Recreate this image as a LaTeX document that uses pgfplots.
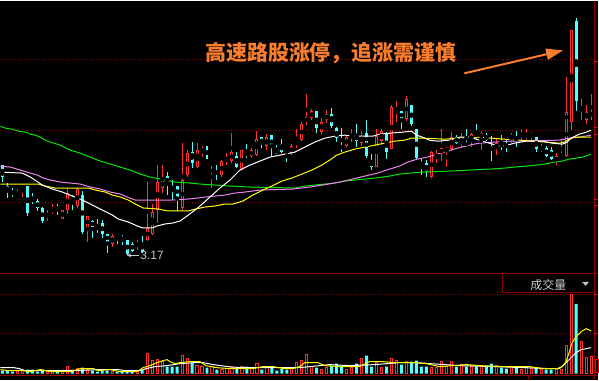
\documentclass[border=0pt]{standalone}
\usepackage{fontspec}
\setmainfont{Liberation Sans}
\newfontfamily\cjk{Noto Sans CJK SC}
\usepackage{pgfplots}
\pgfplotsset{compat=1.18}
\usepackage{pgfplotstable}
\usetikzlibrary{arrows.meta}

\definecolor{upred}{RGB}{255,50,50}
\definecolor{dncyan}{RGB}{84,255,255}
\definecolor{gridred}{RGB}{160,0,0}
\definecolor{linered}{RGB}{140,0,0}
\definecolor{tickred}{RGB}{230,0,0}
\definecolor{maviolet}{RGB}{240,130,240}
\definecolor{magreen}{RGB}{0,230,0}
\definecolor{mayellow}{RGB}{255,255,0}
\definecolor{anno}{RGB}{250,125,45}
\definecolor{lbl}{RGB}{195,200,210}
\definecolor{lgray}{RGB}{200,200,200}

% candles: x = pixel column, h/l = high/low, t/b = body top/bottom (pixel rows from top)
\pgfplotstableread{
x h l t b
17 189 197 195 197
22 184 197 186 189
47 210 221 214 216
52 204 214 208 212
62 210 219 210 219
67 189 214 193 210
77 188 208 189 206
87 216 242 216 228
112 234 247 236 244
137 240 250 243 247
147 182 241 228 240
152 204 235 212 234
157 165 223 182 210
162 165 193 180 188
182 143 210 180 208
187 150 177 153 175
197 143 168 150 167
202 146 157 148 152
212 166 188 169 173
222 160 177 161 175
227 153 165 158 161
232 133 163 152 161
242 150 171 150 170
252 148 158 150 156
257 131 156 139 155
267 134 150 137 146
292 144 155 146 153
297 129 148 141 144
302 122 141 124 140
307 94 125 117 122
312 109 120 111 118
322 118 134 122 132
327 110 123 114 120
347 136 147 137 146
352 129 142 135 137
362 131 146 136 143
377 129 167 136 167
382 129 145 131 141
392 105 149 107 149
397 101 122 107 111
407 96 121 99 119
432 151 178 152 177
437 150 163 154 158
442 129 161 148 154
447 147 167 148 152
452 132 151 137 149
462 133 147 140 144
472 133 147 134 141
482 131 150 133 138
497 139 155 143 149
512 133 143 135 139
522 129 140 133 137
527 129 140 135 137
532 132 140 134 136
542 144 152 147 150
557 153 165 156 162
562 140 158 154 157
567 77 157 112 156
572 30 130 30 122
582 99 120 107 109
587 105 124 112 120
592 94 120 112 116
}\uptab

\pgfplotstableread{
x h l t b
2 165 182 165 177
7 183 198 186 191
12 188 197 191 195
27 186 216 186 213
32 193 204 199 201
37 199 211 201 208
42 207 223 208 221
57 204 215 207 210
72 195 210 197 201
82 191 234 195 232
92 220 238 221 227
97 219 233 227 229
102 220 238 223 234
107 234 253 234 242
117 234 244 234 238
122 235 245 237 240
127 240 255 240 254
132 242 252 244 251
142 236 253 243 252
167 172 195 176 184
172 180 200 186 189
177 186 211 186 197
192 142 168 152 163
207 146 159 146 159
217 165 180 171 174
237 152 168 156 167
247 144 158 152 156
262 137 148 137 144
272 135 157 135 148
277 145 154 150 152
282 139 153 144 152
287 150 162 151 152
317 111 133 111 128
332 108 128 114 126
337 127 142 128 138
342 128 152 146 148
357 124 147 135 141
367 120 158 133 156
372 154 170 161 167
387 132 159 133 152
402 111 129 111 119
412 105 126 105 124
417 129 160 129 158
422 159 175 163 164
427 160 177 163 171
457 135 144 137 143
467 129 147 143 145
477 124 140 133 137
487 133 141 135 140
492 136 161 146 150
502 135 150 143 147
507 139 152 144 147
517 131 147 137 139
537 137 152 137 149
547 146 157 148 156
552 147 160 150 159
577 18 111 21 101
}\dntab

\pgfplotstableread{
x y
0 172
22 173
30 177
42 185
52 189
62 192
72 196
82 200
92 205
102 210
112 215
118 219
128 222
137 226
143 228
152 228
157 226
165 224
173 223
180 221
187 216
195 210
200 206
210 197
220 188
230 180
240 170
250 165
260 161
270 157
285 154
295 152
305 147
315 142
325 138
335 136
345 135
360 136
373 136
380 134
390 133
403 132
412 131
417 135
423 137
430 140
438 141
450 140
460 137
470 137
480 140
490 143
500 146
508 145
515 143
527 141
543 141
553 143
563 144
568 142
572 138
576 136
580 134
587 132
592 130
}\mafive

\pgfplotstableread{
x y
0 184
38 184
45 186
55 188
88 188
95 190
105 192
112 195
120 197
128 200
135 204
143 208
158 209
168 211
188 211
196 209
205 207
215 206
225 204
233 204
243 201
253 195
263 190
272 186
282 181
292 178
302 174
312 170
322 165
330 160
337 155
345 152
355 149
365 147
375 145
385 143
395 141
405 140
412 138
425 138
445 139
460 138
480 137
493 138
505 139
520 140
533 141
548 142
560 143
565 142
570 139
575 137
592 137
}\maten

\pgfplotstableread{
x y
0 166
10 167
20 170
30 173
37 175
43 178
50 180
60 182
80 184
90 187
100 189
110 192
120 194
127 197
135 200
172 200
188 199
198 198
205 197
215 196
225 195
235 193
245 192
260 190
293 189
310 187
323 185
340 182
353 179
365 176
378 173
390 169
400 166
408 162
418 159
428 157
438 154
448 151
458 148
470 145
480 143
495 142
510 141
560 140
570 138
580 137
592 135
}\matwenty

\pgfplotstableread{
x y
0 126
5 128
12 129
18 131
25 132
30 134
35 135
40 137
45 140
50 142
60 145
70 150
80 153
90 157
100 161
110 164
120 167
130 170
140 174
150 177
160 179
175 182
190 183
200 184
215 185
230 186
250 187
295 188
305 186
315 185
325 184
335 183
345 181
355 180
365 179
375 178
390 176
400 174
410 173
425 172
450 171
470 170
490 169
505 168
515 167
527 166
537 165
545 164
555 162
563 161
570 159
577 158
584 157
589 155
592 154
}\masixty

% volume
\pgfplotstableread{
x v
17 2
22 4
47 2
52 2
62 2
67 7
77 5
87 4
112 2
137 2
147 20
152 13
157 14
162 12
182 18
187 15
197 8
202 7
212 7
222 4
227 5
232 6
242 7
252 5
257 10
267 7
292 5
297 11
302 13
307 19
312 7
322 4
327 6
347 4
352 6
362 15
377 11
382 6
392 15
397 13
407 12
432 6
437 6
442 12
447 7
452 12
462 9
472 7
482 7
497 8
512 7
522 4
527 7
532 5
542 4
557 4
562 4
567 28
572 79
582 32
587 16
592 17
}\upvol

\pgfplotstableread{
x v
2 3
7 3
12 2
27 4
32 4
37 2
42 4
57 2
72 4
82 6
92 3
97 2
102 3
107 3
117 2
122 2
127 2
132 2
142 4
167 7
172 7
177 7
192 11
207 6
217 4
237 5
247 7
262 4
272 6
277 3
282 5
287 4
317 6
332 8
337 10
342 7
357 10
367 18
372 7
387 7
402 9
412 12
417 13
422 7
427 7
457 7
467 7
477 7
487 7
492 10
502 6
507 5
517 6
537 6
547 4
552 4
577 70
}\dnvol

\pgfplotstableread{
x v
0 6
13 6
19 5
24 3
77 3
98 4
118 4
125 3
140 3
146 5
155 7
167 8
180 10
195 11
203 11
213 9
228 7
240 6
300 6
310 7
330 9
350 8
375 9
400 11
417 11
430 10
460 8
495 7
525 6
550 5
560 5
563 7
567 11
572 16
577 21
582 24
587 25
592 26
}\volmafive

\pgfplotstableread{
x v
0 4
7 3
23 3
30 2
40 4
50 2
70 2
80 5
93 5
98 3
110 4
120 2
137 2
140 4
143 6
150 8
157 11
163 13
167 14
170 12
175 10
180 11
190 12
200 12
206 8
216 6
230 5
253 5
263 7
273 7
285 5
293 5
300 7
305 11
318 11
325 8
340 7
360 7
370 12
383 12
395 11
415 11
427 10
440 7
453 8
467 9
480 8
505 7
530 7
545 5
558 5
563 7
567 12
570 21
573 31
577 37
582 42
587 45
592 43
}\volmaten

\begin{document}
\begin{tikzpicture}[x=1pt,y=1pt]
% background
\fill[black] (0,-380) rectangle (599,0);
% dotted grid lines
\foreach \yy in {59,130,202,295,334}{
  \draw[gridred, line width=0.8pt, dash pattern=on 1pt off 2pt] (0,-\yy) -- (595,-\yy);
}
% separator and borders
\draw[linered, line width=1pt] (0,-274) -- (599,-274);
\draw[linered, line width=1pt] (0,-375.5) -- (599,-375.5);
\draw[linered, line width=1pt] (529,-375.5) -- (529,-380);
\draw[linered, line width=1pt] (595,0) -- (595,-380);
\foreach \yy in {61,127,134,199,205,295,334}{
  \draw[tickred, line width=0.9pt] (595,-\yy) -- (599,-\yy);
}
\draw[tickred, line width=0.9pt] (596,-360) rectangle (599.5,-373);

% ---------------- main price panel ----------------
\begin{axis}[at={(0,0)}, anchor=north west, scale only axis,
  width=599pt, height=274pt, xmin=0, xmax=599, ymin=0, ymax=274,
  y dir=reverse, hide axis, clip=true]
% down candles (filled cyan)
\addplot[only marks, mark=none, forget plot, error bars/.cd, y dir=both, y explicit,
  error mark=none, error bar style={line width=1pt, draw=dncyan}]
  table[x=x, y expr={(\thisrow{h}+\thisrow{l})/2}, y error expr={(\thisrow{l}-\thisrow{h})/2}] {\dntab};
\addplot[only marks, mark=none, forget plot, error bars/.cd, y dir=both, y explicit,
  error mark=none, error bar style={line width=3pt, draw=dncyan}]
  table[x=x, y expr={(\thisrow{t}+\thisrow{b})/2}, y error expr={(\thisrow{b}-\thisrow{t})/2}] {\dntab};
% up candles (hollow red)
\addplot[only marks, mark=none, forget plot, error bars/.cd, y dir=both, y explicit,
  error mark=none, error bar style={line width=1pt, draw=upred}]
  table[x=x, y expr={(\thisrow{h}+\thisrow{l})/2}, y error expr={(\thisrow{l}-\thisrow{h})/2}] {\uptab};
\addplot[only marks, mark=none, forget plot, error bars/.cd, y dir=both, y explicit,
  error mark=none, error bar style={line width=3pt, draw=upred}]
  table[x=x, y expr={(\thisrow{t}+\thisrow{b})/2}, y error expr={(\thisrow{b}-\thisrow{t})/2}] {\uptab};
\addplot[only marks, mark=none, forget plot, error bars/.cd, y dir=both, y explicit,
  error mark=none, error bar style={line width=1pt, draw=black}]
  table[x=x, y expr={(\thisrow{t}+\thisrow{b})/2}, y error expr={max(0,(\thisrow{b}-\thisrow{t})/2-1)}] {\uptab};
% moving averages
\addplot[magreen, line width=1pt] table[x=x,y=y] {\masixty};
\addplot[maviolet, line width=1pt] table[x=x,y=y] {\matwenty};
\addplot[mayellow, line width=1pt] table[x=x,y=y] {\maten};
\addplot[white, line width=1pt] table[x=x,y=y] {\mafive};
\end{axis}

% ---------------- volume panel ----------------
\begin{axis}[at={(0,-274)}, anchor=north west, scale only axis,
  width=599pt, height=106pt, xmin=0, xmax=599, ymin=-6, ymax=100,
  hide axis, clip=true]
\addplot[ybar, bar width=2.2pt, bar shift=0pt, draw=upred, fill=black, line width=0.9pt] table[x=x,y=v] {\upvol};
\addplot[ybar, bar width=3pt, bar shift=0pt, draw=none, fill=dncyan] table[x=x,y=v] {\dnvol};
\addplot[white, line width=1pt] table[x=x,y=v] {\volmafive};
\addplot[mayellow, line width=1pt] table[x=x,y=v] {\volmaten};
\end{axis}

% ---------------- annotations ----------------
\node[anchor=base west, inner sep=0pt, text=anno, font=\cjk\bfseries\fontsize{21}{21}\selectfont] at (205,-60.5) {高速路股涨停，追涨需谨慎};
\draw[anno, line width=2pt, -{Triangle[length=17pt,width=11pt]}] (465,-73) -- (564,-50);
\draw[lbl, line width=0.8pt, -{Stealth[length=4pt,width=4pt]}] (139,-255.5) -- (127,-255.5);
\node[anchor=base west, inner sep=0pt, text=lbl, font=\fontsize{12}{12}\selectfont] at (140,-260) {3.17};
% volume title box
\draw[linered, line width=1pt] (503,-274) rectangle (595,-293);
\node[anchor=base west, inner sep=0pt, text=lgray, font=\cjk\fontsize{12}{12}\selectfont] at (531,-290) {成交量};
\fill[lgray] (583,-282) -- (590,-282) -- (586.5,-286) -- cycle;
\end{tikzpicture}
\end{document}
